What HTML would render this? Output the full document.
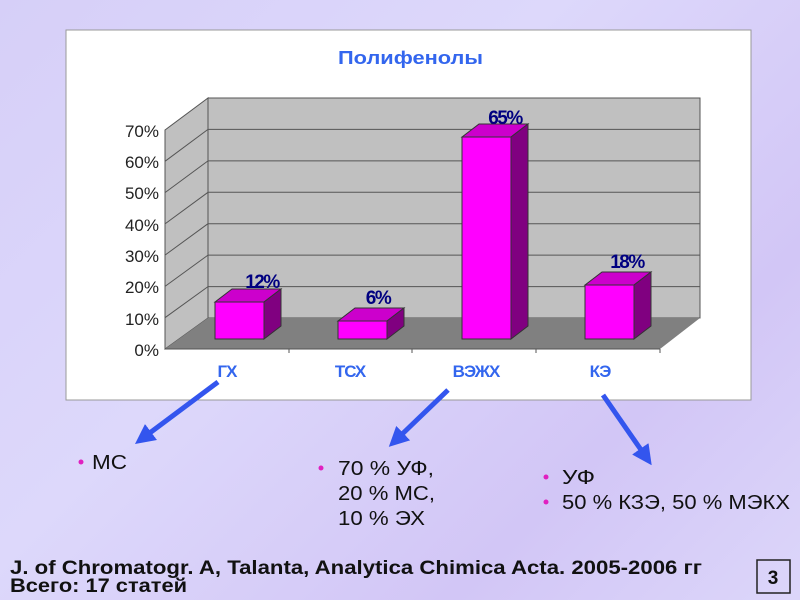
<!DOCTYPE html>
<html><head><meta charset="utf-8"><style>
body{margin:0;width:800px;height:600px;overflow:hidden;background:linear-gradient(135deg,#d6cff8 0%,#ddd8fb 40%,#d2c6f6 75%,#dcd6fa 100%);font-family:"Liberation Sans",sans-serif;}
</style></head><body>
<svg width="800" height="600" xmlns="http://www.w3.org/2000/svg" style="position:absolute;left:0;top:0">
<defs><marker id="ah" markerWidth="4" markerHeight="4" refX="2" refY="2" orient="auto"><path d="M0,0 L4,2 L0,4 z" fill="#3355ee"/></marker></defs>
<rect x="66" y="30" width="685" height="370" fill="#fff" stroke="#999" stroke-width="1"/>
<text x="338" y="64" textLength="145" lengthAdjust="spacingAndGlyphs" font-size="18" font-weight="bold" fill="#3366ee">Полифенолы</text>
<polygon points="208,98 700,98 700,318 208,318" fill="#c0c0c0" stroke="#555" stroke-width="1"/>
<polygon points="165,130 208,98 208,318 165,349" fill="#c0c0c0" stroke="#555" stroke-width="1"/>
<polygon points="165,349 208,318 700,318 660,349" fill="#808080"/>
<g stroke="#555" stroke-width="1">
<line x1="165" y1="317.7" x2="208" y2="286.6"/><line x1="208" y1="286.6" x2="700" y2="286.6"/>
<line x1="165" y1="286.4" x2="208" y2="255.1"/><line x1="208" y1="255.1" x2="700" y2="255.1"/>
<line x1="165" y1="255.1" x2="208" y2="223.7"/><line x1="208" y1="223.7" x2="700" y2="223.7"/>
<line x1="165" y1="223.9" x2="208" y2="192.3"/><line x1="208" y1="192.3" x2="700" y2="192.3"/>
<line x1="165" y1="192.6" x2="208" y2="160.9"/><line x1="208" y1="160.9" x2="700" y2="160.9"/>
<line x1="165" y1="161.3" x2="208" y2="129.4"/><line x1="208" y1="129.4" x2="700" y2="129.4"/>
<line x1="165" y1="130" x2="165" y2="349"/><line x1="165" y1="349" x2="660" y2="349"/>
<line x1="289" y1="349" x2="289" y2="353"/><line x1="412" y1="349" x2="412" y2="353"/><line x1="536" y1="349" x2="536" y2="353"/><line x1="660" y1="349" x2="660" y2="353"/>
</g>
<g font-size="17" fill="#222" text-anchor="end">
<text x="159" y="356">0%</text><text x="159" y="325">10%</text><text x="159" y="293">20%</text><text x="159" y="262">30%</text><text x="159" y="231">40%</text><text x="159" y="199">50%</text><text x="159" y="168">60%</text><text x="159" y="137">70%</text>
</g>
<g stroke="#333" stroke-width="1">
<polygon points="215,302 232,289 281,289 264,302" fill="#cc00cc"/><polygon points="264,302 281,289 281,326 264,339" fill="#800080"/><rect x="215" y="302" width="49" height="37" fill="#ff00ff"/>
<polygon points="338,321 355,308 404,308 387,321" fill="#cc00cc"/><polygon points="387,321 404,308 404,326 387,339" fill="#800080"/><rect x="338" y="321" width="49" height="18" fill="#ff00ff"/>
<polygon points="462,137 479,124 528,124 511,137" fill="#cc00cc"/><polygon points="511,137 528,124 528,326 511,339" fill="#800080"/><rect x="462" y="137" width="49" height="202" fill="#ff00ff"/>
<polygon points="585,285 602,272 651,272 634,285" fill="#cc00cc"/><polygon points="634,285 651,272 651,326 634,339" fill="#800080"/><rect x="585" y="285" width="49" height="54" fill="#ff00ff"/>
</g>
<g font-size="19" font-weight="bold" fill="#000080" text-anchor="middle" letter-spacing="-1.5">
<text x="262" y="288">12%</text><text x="378" y="304">6%</text><text x="505" y="124">65%</text><text x="627" y="268">18%</text>
</g>
<g font-size="17" font-weight="bold" fill="#3366ee" text-anchor="middle" letter-spacing="-1">
<text x="227" y="377">ГХ</text><text x="350" y="377">ТСХ</text><text x="476" y="377">ВЭЖХ</text><text x="600" y="377">КЭ</text>
</g>
<g stroke="#3355ee" stroke-width="5" marker-end="url(#ah)">
<line x1="218" y1="382" x2="143" y2="438"/>
<line x1="448" y1="390" x2="396" y2="440"/>
<line x1="603" y1="395" x2="646" y2="457"/>
</g>
<g font-size="20" fill="#111">
<circle cx="81" cy="462" r="2.5" fill="#e020c0"/><text x="92" y="469" textLength="35" lengthAdjust="spacingAndGlyphs">МС</text>
<circle cx="321" cy="468" r="2.5" fill="#e020c0"/><text x="338" y="475" textLength="96" lengthAdjust="spacingAndGlyphs">70 % УФ,</text>
<text x="338" y="500" textLength="97" lengthAdjust="spacingAndGlyphs">20 % МС,</text><text x="338" y="525" textLength="87" lengthAdjust="spacingAndGlyphs">10 % ЭХ</text>
<circle cx="546" cy="477" r="2.5" fill="#e020c0"/><text x="562" y="484" textLength="33" lengthAdjust="spacingAndGlyphs">УФ</text>
<circle cx="546" cy="502" r="2.5" fill="#e020c0"/><text x="562" y="509" textLength="228" lengthAdjust="spacingAndGlyphs">50 % КЗЭ, 50 % МЭКХ</text>
</g>
<g font-size="19" font-weight="bold" fill="#111">
<text x="10" y="574" textLength="692" lengthAdjust="spacingAndGlyphs">J. of Chromatogr. A, Talanta, Analytica Chimica Acta. 2005-2006 гг</text>
<text x="10" y="592" textLength="177" lengthAdjust="spacingAndGlyphs">Всего: 17 статей</text>
</g>
<rect x="757" y="560" width="33" height="33" fill="none" stroke="#222" stroke-width="1.5"/>
<text x="773" y="584" font-size="19" font-weight="bold" text-anchor="middle" fill="#111">3</text>
</svg>
</body></html>
